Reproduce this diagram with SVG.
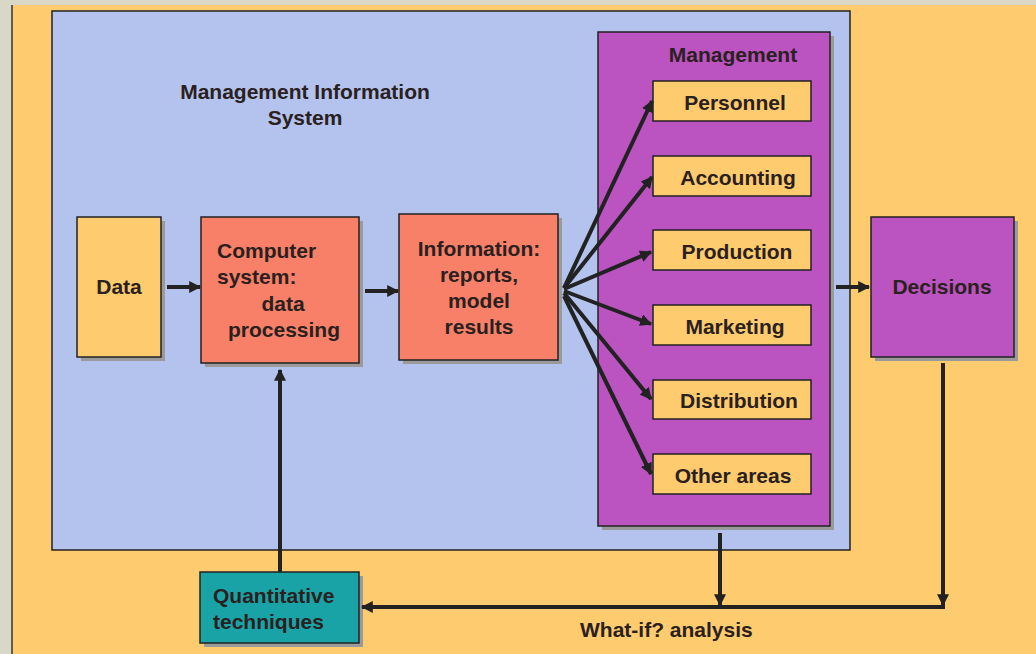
<svg xmlns="http://www.w3.org/2000/svg" width="1036" height="654" viewBox="0 0 1036 654">
<defs>
<marker id="ah" viewBox="0 0 10 10" refX="9" refY="5" markerWidth="12" markerHeight="12" markerUnits="userSpaceOnUse" orient="auto">
<path d="M0,0 L10,5 L0,10 z" fill="#222"/>
</marker>
</defs>
<style>
.box{stroke:#222;stroke-width:1.5}
.sh{fill:#9a9a9a}
.t{font-family:"Liberation Sans",Arial,sans-serif;font-weight:bold;font-size:21px;fill:#2a2020}
.m{text-anchor:middle}
.c{stroke:#222;stroke-width:4;fill:none}
.ca{stroke:#222;stroke-width:4;fill:none;marker-end:url(#ah)}
</style>
<rect x="0" y="0" width="1036" height="654" fill="#d9d7c7"/>
<rect x="12" y="5" width="1024" height="649" fill="#fecb6e"/>
<line x1="12" y1="5" x2="12" y2="654" stroke="#333" stroke-width="1.5"/>
<g id="mis">
<rect x="52" y="11" width="798" height="539" fill="#b3c3ee" class="box"/>
<text class="t m" x="305" y="99">Management Information</text>
<text class="t m" x="305" y="125">System</text>
</g>
<g id="data">
<rect class="sh" x="81" y="221" width="84" height="140"/>
<rect class="box" x="77" y="217" width="84" height="140" fill="#fecb6e"/>
<text class="t m" x="119" y="294">Data</text>
</g>
<g id="computer">
<rect class="sh" x="205" y="221" width="158" height="146"/>
<rect class="box" x="201" y="217" width="158" height="146" fill="#f88068"/>
<text class="t" x="217" y="258">Computer</text>
<text class="t" x="217" y="284">system:</text>
<text class="t m" x="283" y="311">data</text>
<text class="t m" x="284" y="337">processing</text>
</g>
<g id="information">
<rect class="sh" x="403" y="218" width="159" height="146"/>
<rect class="box" x="399" y="214" width="159" height="146" fill="#f88068"/>
<text class="t m" x="479" y="256">Information:</text>
<text class="t m" x="479" y="282">reports,</text>
<text class="t m" x="479" y="308">model</text>
<text class="t m" x="479" y="334">results</text>
</g>
<g id="management">
<rect class="sh" x="602" y="36" width="232" height="494"/>
<rect class="box" x="598" y="32" width="232" height="494" fill="#bb53c1"/>
<text class="t m" x="733" y="62">Management</text>
</g>
<g id="personnel">
<rect class="box" x="653" y="81" width="158" height="40" fill="#fecb6e"/>
<text class="t m" x="735" y="110">Personnel</text>
</g>
<g id="accounting">
<rect class="box" x="653" y="156" width="158" height="40" fill="#fecb6e"/>
<text class="t m" x="738" y="185">Accounting</text>
</g>
<g id="production">
<rect class="box" x="653" y="230" width="158" height="40" fill="#fecb6e"/>
<text class="t m" x="737" y="259">Production</text>
</g>
<g id="marketing">
<rect class="box" x="653" y="305" width="158" height="40" fill="#fecb6e"/>
<text class="t m" x="735" y="334">Marketing</text>
</g>
<g id="distribution">
<rect class="box" x="653" y="380" width="158" height="39" fill="#fecb6e"/>
<text class="t m" x="739" y="408">Distribution</text>
</g>
<g id="other">
<rect class="box" x="653" y="454" width="158" height="40" fill="#fecb6e"/>
<text class="t m" x="733" y="483">Other areas</text>
</g>
<g id="decisions">
<rect class="sh" x="875" y="221" width="143" height="140"/>
<rect class="box" x="871" y="217" width="143" height="140" fill="#bb53c1"/>
<text class="t m" x="942" y="294">Decisions</text>
</g>
<g id="quantitative">
<rect class="sh" x="204" y="576" width="159" height="71"/>
<rect class="box" x="200" y="572" width="159" height="71" fill="#1aa3a6"/>
<text class="t" x="213" y="603">Quantitative</text>
<text class="t" x="213" y="629">techniques</text>
</g>
<g id="connectors">
<line class="ca" x1="167" y1="287" x2="200" y2="287"/>
<line class="ca" x1="365" y1="291" x2="398" y2="291"/>
<line class="ca" x1="564" y1="288" x2="652" y2="101"/>
<line class="ca" x1="564" y1="288" x2="652" y2="177"/>
<line class="ca" x1="564" y1="289" x2="651" y2="252"/>
<line class="ca" x1="564" y1="291" x2="651" y2="324"/>
<line class="ca" x1="564" y1="293" x2="651" y2="399"/>
<line class="ca" x1="564" y1="296" x2="651" y2="474"/>
<line class="ca" x1="836" y1="287" x2="869" y2="287"/>
<line class="ca" x1="720" y1="533" x2="720" y2="605"/>
<line class="ca" x1="943" y1="363" x2="943" y2="605"/>
<line class="ca" x1="945" y1="607" x2="362" y2="607"/>
<line class="ca" x1="280" y1="572" x2="280" y2="370"/>
</g>
<text class="t" x="580" y="637">What-if? analysis</text>
</svg>
